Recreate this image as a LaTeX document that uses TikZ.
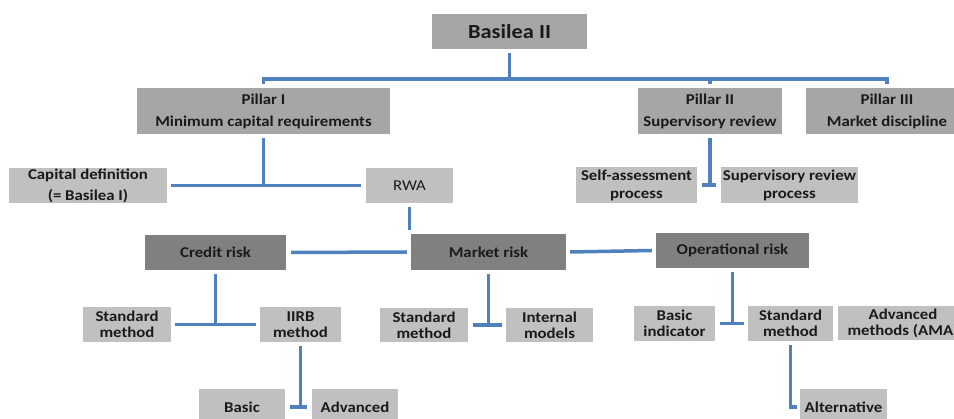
\documentclass[tikz,border=0pt]{standalone}
\usepackage{fontspec}
\setmainfont{Carlito}[FakeStretch=1.12]
\definecolor{lgray}{HTML}{C0C0C0}
\definecolor{mgray}{HTML}{A6A6A6}
\definecolor{dgray}{HTML}{808080}
\definecolor{blu}{HTML}{4F81BD}
\definecolor{txt}{HTML}{1A1A1A}
\begin{document}
\begin{tikzpicture}[x=1pt,y=-1pt,
  box/.style={rectangle, inner sep=0pt, align=center, text=txt, font=\bfseries\fontsize{15}{16}\selectfont},
  lbox/.style={box, fill=lgray},
  mbox/.style={box, fill=mgray},
  dbox/.style={box, fill=dgray},
  conn/.style={draw=blu, line width=3.5pt}]
\useasboundingbox[fill=white] (0,0) rectangle (954,419);
% level 0
\node[mbox, minimum width=155pt, minimum height=35pt, font=\bfseries\fontsize{20}{22}\selectfont] (basilea) at (509.5,31.5) {Basilea II};
% pillars
\node[mbox, minimum width=253pt, minimum height=46pt] (p1) at (263.5,111) {Pillar I\\[6pt]Minimum capital requirements};
\node[mbox, minimum width=144pt, minimum height=46pt] (p2) at (710,111) {Pillar II\\[6pt]Supervisory review};
\node[mbox, minimum width=162pt, minimum height=46pt] (p3) at (887,111) {Pillar III\\[6pt]Market discipline};
% level 2
\node[lbox, minimum width=158pt, minimum height=35pt] (capdef) at (88,185.5) {Capital definition\\[5pt](= Basilea I)};
\node[lbox, minimum width=87pt, minimum height=35pt, font=\fontsize{15}{16}\selectfont] (rwa) at (409.5,185.5) {RWA};
\node[lbox, minimum width=121pt, minimum height=36pt] (self) at (636.5,185) {Self-assessment\\[2pt]process};
\node[lbox, minimum width=137pt, minimum height=36pt] (supproc) at (789.5,185) {Supervisory review\\[2pt]process};
% risks
\node[dbox, minimum width=141pt, minimum height=35pt] (credit) at (215.5,252.5) {Credit risk};
\node[dbox, minimum width=155pt, minimum height=36pt] (market) at (488.5,252) {Market risk};
\node[dbox, minimum width=153pt, minimum height=35pt] (oper) at (732.5,250.5) {Operational risk};
% methods
\node[lbox, minimum width=88pt, minimum height=35pt] (std1) at (127,324.5) {Standard\\method};
\node[lbox, minimum width=81pt, minimum height=35pt] (iirb) at (300.5,324.5) {IIRB\\method};
\node[lbox, minimum width=88pt, minimum height=34pt] (std2) at (424,325) {Standard\\method};
\node[lbox, minimum width=87pt, minimum height=34pt] (intmod) at (549.5,325) {Internal\\models};
\node[lbox, minimum width=81pt, minimum height=35pt] (basicind) at (674.5,323.5) {Basic\\indicator};
\node[lbox, minimum width=85pt, minimum height=35pt] (std3) at (790.5,323.5) {Standard\\method};
\node[lbox, minimum width=130pt, minimum height=34pt] (ama) at (903,323) {Advanced\\methods (AMA)};
% bottom
\node[lbox, minimum width=86pt, minimum height=36pt] (basic) at (242,407) {Basic};
\node[lbox, minimum width=86pt, minimum height=36pt] (adv) at (355,407) {Advanced};
\node[lbox, minimum width=87pt, minimum height=36pt] (alt) at (843.5,407) {Alternative};
% connectors
\coordinate (bus) at (510,79);
\draw[conn] ([yshift=-4pt]basilea.south) -- (basilea.south |- bus);
\draw[conn] ([yshift=4pt]p1.north) |- (bus) -| ([yshift=4pt]p3.north);
\draw[conn] ([yshift=4pt]p2.north) -- (p2.north |- bus);
\draw[conn] ([yshift=-4pt]p1.south) -- (p1.south |- capdef.east);
\draw[conn] ([xshift=4pt]capdef.east) -- ([xshift=-5pt]rwa.west);
\draw[conn] ([yshift=-4pt]p2.south) -- (p2.south |- self.east);
\draw[conn] ([xshift=5pt]self.east) -- ([xshift=-5pt]supproc.west);
\draw[conn] ([yshift=-4pt]rwa.south) -- ([yshift=4pt]rwa.south |- market.north);
\draw[conn] ([xshift=5pt]credit.east) -- ([xshift=-4pt]market.west);
\draw[conn] ([xshift=4pt]market.east) -- ([xshift=-4pt]oper.west);
\draw[conn] ([yshift=-4pt]credit.south) -- (credit.south |- std1.east);
\draw[conn] ([xshift=4pt]std1.east) -- ([xshift=-4pt]iirb.west);
\draw[conn] ([yshift=-4pt]iirb.south) -- (iirb.south |- basic.east);
\draw[conn] ([xshift=5pt]basic.east) -- ([xshift=-5pt]adv.west);
\draw[conn] ([yshift=-4pt]market.south) -- (market.south |- std2.east);
\draw[conn] ([xshift=5pt]std2.east) -- ([xshift=-4pt]intmod.west);
\draw[conn] ([yshift=-4pt]oper.south) -- (oper.south |- basicind.east);
\draw[conn] ([xshift=5pt]basicind.east) -- ([xshift=-4pt]std3.west);
\draw[conn] ([yshift=-4pt]std3.south) |- ([xshift=-3pt]alt.west);
\end{tikzpicture}
\end{document}
